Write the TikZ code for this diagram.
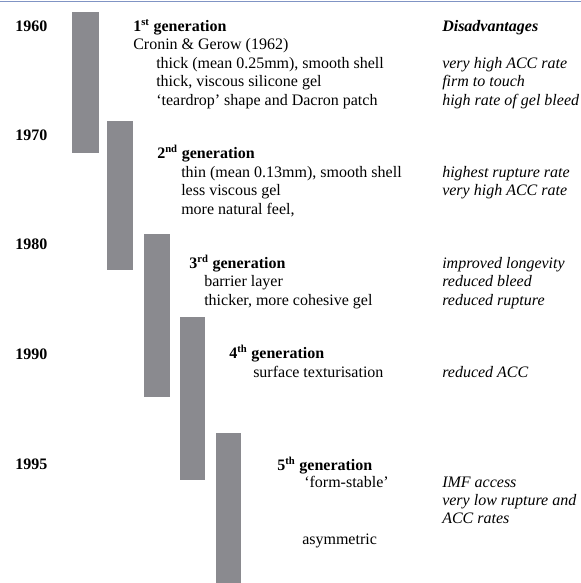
\documentclass[tikz,border=0pt]{standalone}
\usepackage{fontspec}
\setmainfont{Liberation Serif}
\definecolor{barGray}{RGB}{138,138,143}
\definecolor{topBlue}{RGB}{128,148,196}

\begin{document}
\begin{tikzpicture}[x=0.75pt,y=-0.75pt,
    every node/.style={inner sep=0pt,anchor=base west},
    txt/.style={font=\fontsize{12}{14}\selectfont},
    year/.style={font=\fontsize{12}{14}\selectfont\bfseries},
    dis/.style={font=\fontsize{12}{14}\selectfont\itshape}]
    \useasboundingbox(0,0)rectangle(581,583);
    \draw[topBlue,line width=1pt](0,1.5)--(581,1.5);

    % bars
    \fill[barGray](72,12)rectangle(99,153);
    \fill[barGray](107,121)rectangle(133,270);
    \fill[barGray](144,234)rectangle(170,397);
    \fill[barGray](180,317)rectangle(205,480);
    \fill[barGray](216,433)rectangle(241,583);

    % years
    \node[year](y60)at(15,31){1960};
    \node[year](y70)at(15,140){1970};
    \node[year](y80)at(15,249){1980};
    \node[year](y90)at(15,359){1990};
    \node[year](y95)at(15,469){1995};

    \node[year](g1)at(133,31){1\textsuperscript{st} generation};
    \node[txt](g1a)at(133,49.5){Cronin \& Gerow (1962)};
    \node[txt](g1b)at(156,68){thick (mean 0.25mm), smooth shell};
    \node[txt](g1c)at(156,86.5){thick, viscous silicone gel};
    \node[txt](g1d)at(156,105){‘teardrop’ shape and Dacron patch};
    \node[year,font=\fontsize{12}{14}\selectfont\bfseries\itshape](dis)at(442,31){Disadvantages};
    \node[dis](d1a)at(442,68){very high ACC rate};
    \node[dis](d1b)at(442,86.5){firm to touch};
    \node[dis](d1c)at(442,105){high rate of gel bleed};

    \node[year](g2)at(157,158){2\textsuperscript{nd} generation};
    \node[txt](g2a)at(181,177){thin (mean 0.13mm), smooth shell};
    \node[txt](g2b)at(181,195.5){less viscous gel};
    \node[txt](g2c)at(181,214){more natural feel,};
    \node[dis](d2a)at(442,177){highest rupture rate};
    \node[dis](d2b)at(442,195.5){very high ACC rate};

    \node[year](g3)at(189,268){3\textsuperscript{rd} generation};
    \node[txt](g3a)at(204,286.5){barrier layer};
    \node[txt](g3b)at(204,305){thicker, more cohesive gel};
    \node[dis](d3a)at(442,268){improved longevity};
    \node[dis](d3b)at(442,286.5){reduced bleed};
    \node[dis](d3c)at(442,305){reduced rupture};

    \node[year](g4)at(229,358){4\textsuperscript{th} generation};
    \node[txt](g4a)at(253,377.5){surface texturisation};
    \node[dis](d4a)at(442,377.5){reduced ACC};

    \node[year](g5)at(277,470){5\textsuperscript{th} generation};
    \node[txt](g5a)at(304,487){‘form-stable’};
    \node[txt](g5b)at(302,544){asymmetric};
    \node[dis](d5a)at(442,487){IMF access};
    \node[dis](d5b)at(442,505){very low rupture and};
    \node[dis](d5c)at(442,523){ACC rates};
\end{tikzpicture}
\end{document}
